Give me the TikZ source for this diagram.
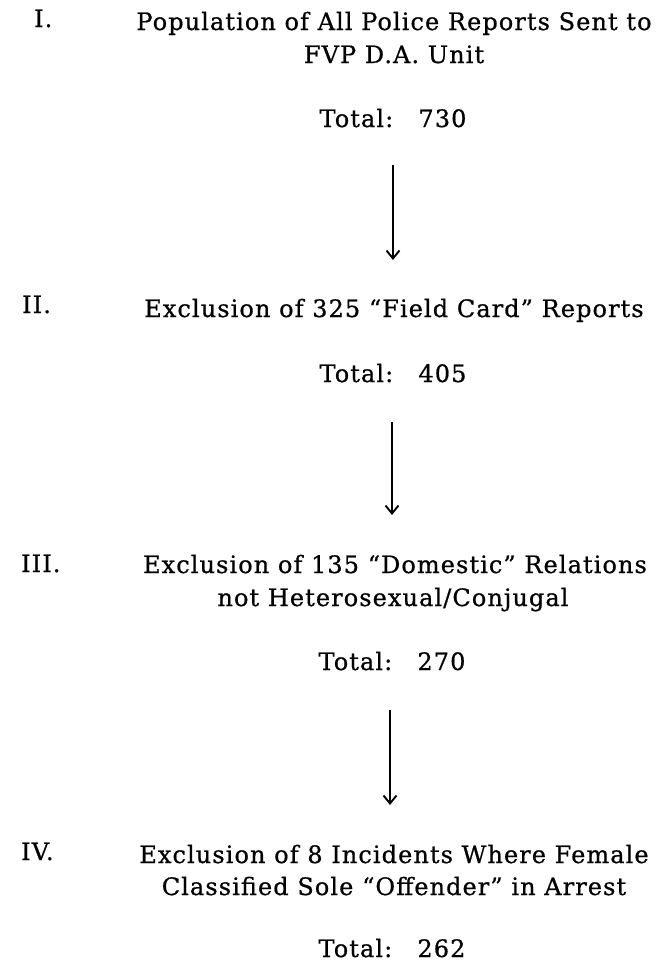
\documentclass[tikz,border=0pt]{standalone}
\usepackage{fontspec}
\setmainfont{DejaVu Serif}[LetterSpace=4.5,FakeBold=0.7]
\usetikzlibrary{arrows.meta}
\tikzset{
  txt/.style={anchor=base, inner sep=0pt, font=\fontsize{24}{28}\selectfont},
  num/.style={anchor=base west, inner sep=0pt, font=\fontsize{24}{28}\selectfont},
  arr/.style={line width=1.9pt, -{Straight Barb[length=8pt,width=13pt,line width=1.9pt]}}
}
\begin{document}
\begin{tikzpicture}[x=1pt,y=-1pt]
\useasboundingbox (0,0) rectangle (662,962);
% I
\node[num] (n1) at (34,27) {I.};
\node[txt] (a1) at (394,30) {Population of All Police Reports Sent to};
\node[txt] (a2) at (394,63) {FVP D.A. Unit};
\node[txt] (t1) at (393,127) {Total:\hspace{1.05em}730};
\coordinate (s1) at (393,165);
\coordinate (e1) at (393,260);
\draw[arr] (s1) -- (e1);
% II
\node[num] (n2) at (22,313) {II.};
\node[txt] (b1) at (394,317) {Exclusion of 325 “Field Card” Reports};
\node[txt] (t2) at (393,382) {Total:\hspace{1.05em}405};
\coordinate (s2) at (392,422);
\coordinate (e2) at (392,515);
\draw[arr] (s2) -- (e2);
% III
\node[num] (n3) at (21,572) {III.};
\node[txt] (c1) at (395,573) {Exclusion of 135 “Domestic” Relations};
\node[txt] (c2) at (393,606) {not Heterosexual/Conjugal};
\node[txt] (t3) at (392,670) {Total:\hspace{1.05em}270};
\coordinate (s3) at (390,710);
\coordinate (e3) at (390,805);
\draw[arr] (s3) -- (e3);
% IV
\node[num] (n4) at (21,860) {IV.};
\node[txt] (d1) at (394,863) {Exclusion of 8 Incidents Where Female};
\node[txt] (d2) at (394,895) {Classified Sole “Offender” in Arrest};
\node[txt] (t4) at (392,957) {Total:\hspace{1.05em}262};
\end{tikzpicture}
\end{document}
